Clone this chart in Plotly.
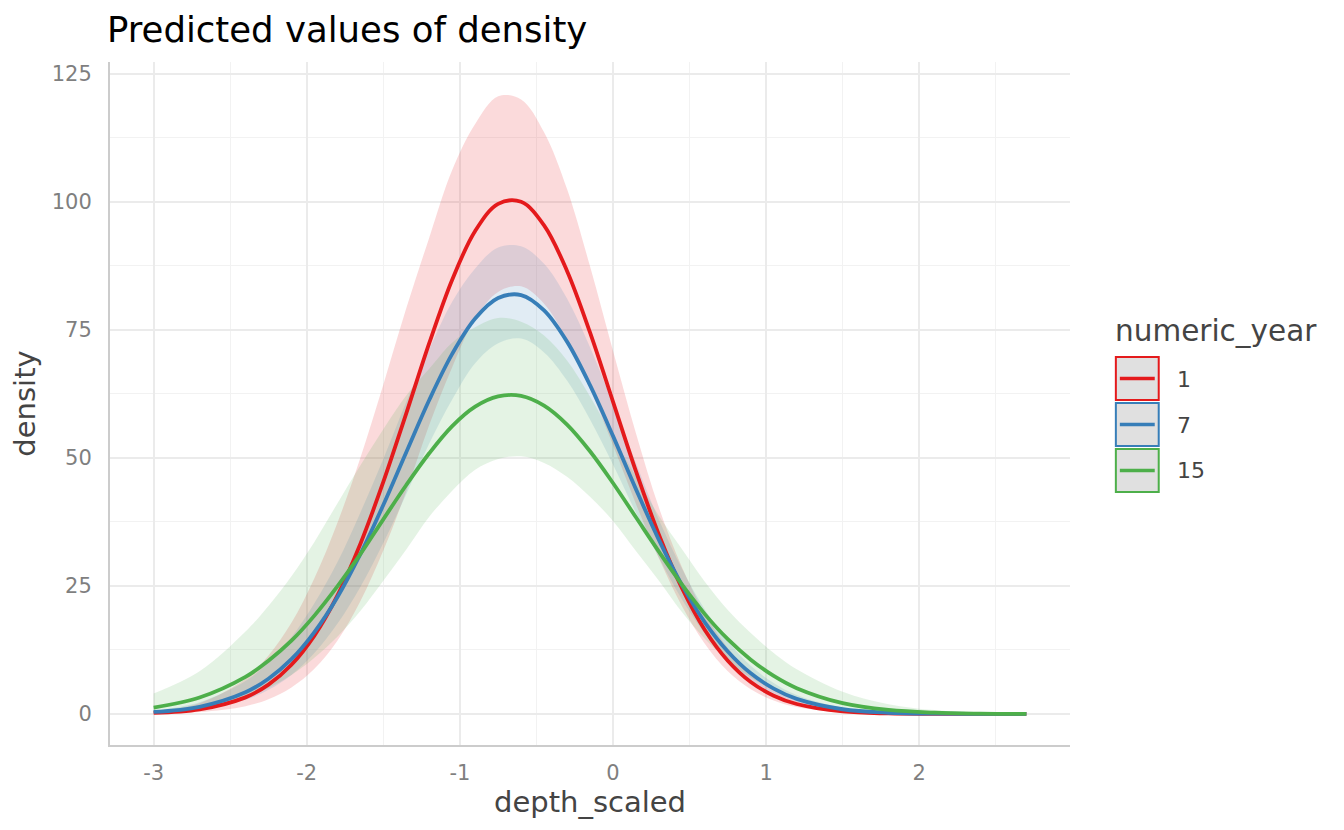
import plotly.graph_objects as go

# depth_scaled grid
depth = [-3.0, -2.7, -2.4, -2.25, -2.1, -1.95, -1.8, -1.65, -1.5, -1.35,
         -1.2, -1.05, -0.9, -0.75, -0.6, -0.45, -0.3, -0.15, 0.0, 0.15,
         0.3, 0.45, 0.6, 0.75, 0.9, 1.05, 1.2, 1.5, 1.8, 2.1, 2.4, 2.7]

# numeric_year = 1
pred_1 = [0.20, 0.90, 3.24, 5.72, 9.60, 15.3, 23.1, 33.2, 45.3, 58.7,
          72.4, 84.8, 94.3, 99.6, 100.0, 95.4, 86.5, 74.5, 61.0, 47.4,
          35.0, 24.6, 16.4, 10.4, 6.24, 3.57, 1.94, 0.49, 0.10, 0.02, 0.00, 0.00]
low_1 = [0.08, 0.38, 1.53, 2.88, 5.16, 8.81, 14.3, 22.0, 31.9, 43.5,
         56.4, 67.7, 77.2, 82.4, 83.5, 80.1, 73.0, 63.5, 52.5, 41.0,
         30.4, 21.1, 13.7, 8.32, 4.81, 2.62, 1.35, 0.30, 0.05, 0.01, 0.00, 0.00]
high_1 = [0.52, 2.11, 6.86, 11.4, 17.8, 26.5, 37.3, 50.0, 64.3, 79.2,
          93.0, 106.2, 115.2, 120.6, 120.0, 113.6, 102.5, 87.4, 70.9, 54.8,
          40.3, 28.7, 19.6, 12.9, 8.09, 4.87, 2.78, 0.79, 0.18, 0.04, 0.01, 0.00]

# numeric_year = 7
pred_7 = [0.39, 1.40, 4.23, 6.89, 10.7, 16.0, 22.8, 31.2, 40.8, 51.1,
          61.3, 70.3, 77.2, 81.2, 81.8, 78.8, 72.7, 64.2, 54.3, 43.9,
          34.0, 25.2, 17.9, 12.2, 7.93, 4.94, 2.94, 0.92, 0.24, 0.05, 0.01, 0.00]
low_7 = [0.21, 0.85, 2.78, 4.71, 7.62, 11.9, 17.6, 24.8, 33.4, 42.9,
         52.8, 61.4, 68.5, 72.4, 73.3, 70.6, 65.1, 57.5, 48.7, 39.3,
         30.5, 22.4, 15.7, 10.5, 6.69, 4.05, 2.34, 0.68, 0.16, 0.03, 0.01, 0.00]
high_7 = [0.71, 2.31, 6.44, 10.1, 15.0, 21.6, 29.6, 39.3, 49.8, 60.9,
          71.2, 80.5, 87.0, 91.1, 91.3, 87.9, 81.1, 71.6, 60.6, 49.0,
          37.9, 28.4, 20.4, 14.2, 9.40, 6.03, 3.70, 1.24, 0.35, 0.08, 0.02, 0.00]

# numeric_year = 15
pred_15 = [1.26, 3.22, 7.24, 10.4, 14.3, 19.2, 24.9, 31.2, 38.0, 44.7,
           50.9, 56.2, 60.0, 62.0, 62.1, 60.2, 56.5, 51.3, 45.1, 38.4,
           31.7, 25.3, 19.5, 14.6, 10.6, 7.43, 5.04, 2.11, 0.78, 0.25, 0.07, 0.02]
low_15 = [0.40, 1.25, 3.25, 5.09, 7.61, 11.0, 15.1, 20.1, 26.0, 32.1,
          38.5, 43.6, 47.7, 49.8, 50.3, 49.0, 46.3, 42.4, 37.7, 31.8,
          26.0, 19.9, 14.7, 10.5, 7.10, 4.64, 2.91, 1.03, 0.32, 0.08, 0.02, 0.00]
high_15 = [3.98, 8.33, 16.1, 21.1, 26.9, 33.6, 41.1, 48.5, 55.6, 62.2,
           67.4, 72.5, 75.5, 77.3, 76.6, 73.9, 69.0, 62.0, 54.0, 46.4,
           38.7, 32.2, 25.8, 20.3, 15.8, 11.9, 8.73, 4.33, 1.92, 0.75, 0.26, 0.09]

x_ticks = [-3, -2, -1, 0, 1, 2]
x_labels = ["-3", "-2", "-1", "0", "1", "2"]
y_ticks = [0, 25, 50, 75, 100, 125]

groups = [
    ("1", "#E41A1C", "rgba(228,26,28,0.16)", pred_1, low_1, high_1),
    ("7", "#377EB8", "rgba(55,126,184,0.15)", pred_7, low_7, high_7),
    ("15", "#4DAF4A", "rgba(77,175,74,0.15)", pred_15, low_15, high_15),
]

font = "DejaVu Sans"
fig = go.Figure()

# ribbons first, lines on top (like ggplot)
for name, col, fill, pred, lo, hi in groups:
    fig.add_trace(go.Scatter(
        x=depth + depth[::-1], y=hi + lo[::-1],
        fill="toself", fillcolor=fill, mode="lines",
        line=dict(width=0, shape="spline"),
        hoverinfo="skip", showlegend=False))

for name, col, fill, pred, lo, hi in groups:
    fig.add_trace(go.Scatter(
        x=depth, y=pred, mode="lines", name=name,
        line=dict(color=col, width=3.8, shape="spline"),
        showlegend=False))

# the page body has an 8px margin, so work in page pixels and shift
OFF = 8
W, H = 1344 - 2 * OFF, 830 - 2 * OFF
L, R, T, B = 107, 1070, 62, 745  # plot area in page pixels


def px_x(p):
    return (p - L) / (R - L)


def px_y(p):
    return (B - p) / (B - T)


# legend drawn by hand to look like the ggplot keys
shapes = []
annots = []
annots.append(dict(x=px_x(1113), y=px_y(331), xref="paper", yref="paper",
                   text="numeric_year", showarrow=False, xanchor="left",
                   yanchor="middle", font=dict(family=font, size=29.5, color="#444444")))
for i, (name, col, fill, pred, lo, hi) in enumerate(groups):
    top = 357 + i * 46
    shapes.append(dict(type="rect", xref="paper", yref="paper",
                       x0=px_x(1116), x1=px_x(1159), y0=px_y(top + 43), y1=px_y(top),
                       fillcolor="#e0e0e0", line=dict(color=col, width=2)))
    shapes.append(dict(type="line", xref="paper", yref="paper",
                       x0=px_x(1120), x1=px_x(1155), y0=px_y(top + 21.5), y1=px_y(top + 21.5),
                       line=dict(color=col, width=3.6)))
    annots.append(dict(x=px_x(1175), y=px_y(top + 22), xref="paper", yref="paper",
                       text=name, showarrow=False, xanchor="left", yanchor="middle",
                       font=dict(family=font, size=22, color="#444444")))

fig.update_layout(
    width=W, height=H,
    margin=dict(l=L - OFF, r=W - (R - OFF), t=T - OFF, b=H - (B - OFF)),
    plot_bgcolor="white", paper_bgcolor="white",
    font=dict(family=font),
    title=dict(text="Predicted values of density", x=(107 - OFF) / W,
               xanchor="left", y=1 - (30 - OFF) / H, yanchor="middle",
               font=dict(family=font, size=35.5, color="#000000")),
    shapes=shapes, annotations=annots,
    showlegend=False,
)

fig.update_xaxes(
    range=[-3.285, 2.985], tickvals=x_ticks, ticktext=x_labels,
    showgrid=True, gridcolor="#ebebeb", gridwidth=2, zeroline=False,
    minor=dict(dtick=0.5, tick0=0, showgrid=True, gridcolor="#f2f2f2", gridwidth=1.4),
    showline=True, linecolor="#cccccc", linewidth=2,
    tickfont=dict(family=font, size=21, color="#7f7f7f"), ticklabelstandoff=8,
    title=dict(text="depth_scaled", font=dict(family=font, size=29, color="#444444"),
               standoff=4),
)
fig.update_yaxes(
    range=[-6.06, 127.3], tickvals=y_ticks,
    showgrid=True, gridcolor="#ebebeb", gridwidth=2, zeroline=False,
    minor=dict(dtick=12.5, tick0=0, showgrid=True, gridcolor="#f2f2f2", gridwidth=1.4),
    showline=True, linecolor="#cccccc", linewidth=2,
    tickfont=dict(family=font, size=21, color="#7f7f7f"), ticklabelstandoff=12,
    title=dict(text="density", font=dict(family=font, size=29, color="#444444"),
               standoff=11),
)

fig.write_html("out.html")
